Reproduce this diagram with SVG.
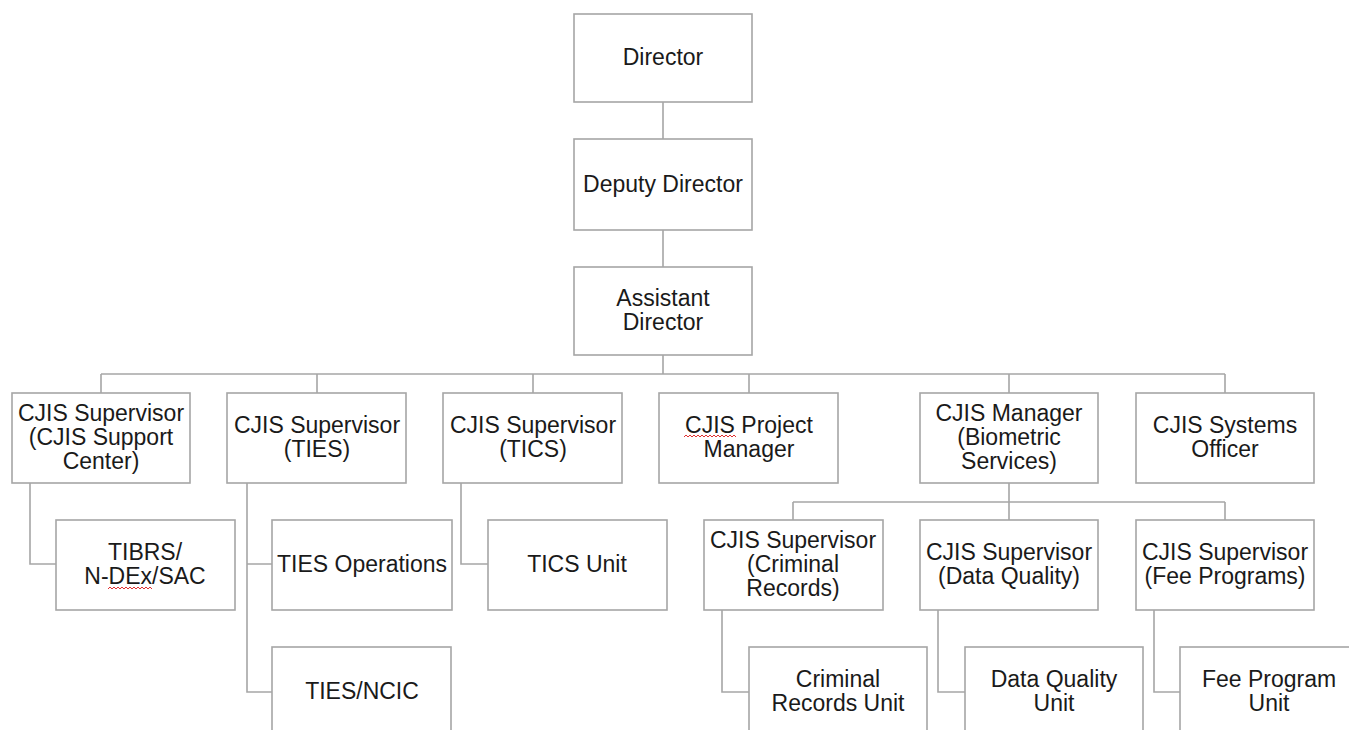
<svg xmlns="http://www.w3.org/2000/svg" width="1349" height="730" viewBox="0 0 1349 730">
<style>
.box{fill:#ffffff;stroke:#a6a6a6;stroke-width:1.6}
.lbl{font-family:"Liberation Sans",Arial,sans-serif;font-size:23px;fill:#1a1a1a;text-anchor:middle}
.con{fill:none;stroke:#a6a6a6;stroke-width:1.6}
.sq{fill:none;stroke:#e03030;stroke-width:1}
</style>
<rect width="1349" height="730" fill="#ffffff"/>
<g id="connectors">
<path class="con" d="M663 102V139M663 230V267M663 355V374M101 374H1225M101 374V393M317 374V393M533 374V393M749 374V393M1009 374V393M1225 374V393"/>
<path class="con" d="M1009 483V502M793 502H1225M793 502V520M1009 502V520M1225 502V520"/>
<path class="con" d="M30 483V564H56M247 483V692H272M247 564H272M461 483V564H488M722 610V692H749M938 610V692H965M1154 610V692H1180"/>
</g>
<g id="director"><rect class="box" x="574" y="14" width="178" height="88"/><text class="lbl" x="663" y="65">Director</text></g>
<g id="deputy"><rect class="box" x="574" y="139" width="178" height="91"/><text class="lbl" x="663" y="192">Deputy Director</text></g>
<g id="assistant"><rect class="box" x="574" y="267" width="178" height="88"/><text class="lbl" x="663" y="306">Assistant</text><text class="lbl" x="663" y="330">Director</text></g>
<g id="sup-support"><rect class="box" x="12" y="393" width="178" height="90"/><text class="lbl" x="101" y="421">CJIS Supervisor</text><text class="lbl" x="101" y="445">(CJIS Support</text><text class="lbl" x="101" y="469">Center)</text></g>
<g id="sup-ties"><rect class="box" x="227" y="393" width="179" height="90"/><text class="lbl" x="317" y="433">CJIS Supervisor</text><text class="lbl" x="317" y="457">(TIES)</text></g>
<g id="sup-tics"><rect class="box" x="443" y="393" width="179" height="90"/><text class="lbl" x="533" y="433">CJIS Supervisor</text><text class="lbl" x="533" y="457">(TICS)</text></g>
<g id="project-manager"><rect class="box" x="659" y="393" width="179" height="90"/><text class="lbl" x="749" y="433">CJIS Project</text><text class="lbl" x="749" y="457">Manager</text><path class="sq" d="M684 437l2 -2 2 2 2 -2 2 2 2 -2 2 2 2 -2 2 2 2 -2 2 2 2 -2 2 2 2 -2 2 2 2 -2 2 2 2 -2 2 2 2 -2 2 2 2 -2 2 2 2 -2 2 2 2 -2 2 2"/></g>
<g id="mgr-biometric"><rect class="box" x="920" y="393" width="178" height="90"/><text class="lbl" x="1009" y="421">CJIS Manager</text><text class="lbl" x="1009" y="445">(Biometric</text><text class="lbl" x="1009" y="469">Services)</text></g>
<g id="systems-officer"><rect class="box" x="1136" y="393" width="178" height="90"/><text class="lbl" x="1225" y="433">CJIS Systems</text><text class="lbl" x="1225" y="457">Officer</text></g>
<g id="tibrs"><rect class="box" x="56" y="520" width="179" height="90"/><text class="lbl" x="145" y="560">TIBRS/</text><text class="lbl" x="145" y="584">N-DEx/SAC</text><path class="sq" d="M108 589l2 -2 2 2 2 -2 2 2 2 -2 2 2 2 -2 2 2 2 -2 2 2 2 -2 2 2 2 -2 2 2 2 -2 2 2 2 -2 2 2 2 -2 2 2 2 -2 2 2"/></g>
<g id="ties-ops"><rect class="box" x="272" y="520" width="180" height="90"/><text class="lbl" x="362" y="572">TIES Operations</text></g>
<g id="tics-unit"><rect class="box" x="488" y="520" width="179" height="90"/><text class="lbl" x="577" y="572">TICS Unit</text></g>
<g id="sup-criminal"><rect class="box" x="704" y="520" width="179" height="90"/><text class="lbl" x="793" y="548">CJIS Supervisor</text><text class="lbl" x="793" y="572">(Criminal</text><text class="lbl" x="793" y="596">Records)</text></g>
<g id="sup-dq"><rect class="box" x="920" y="520" width="178" height="90"/><text class="lbl" x="1009" y="560">CJIS Supervisor</text><text class="lbl" x="1009" y="584">(Data Quality)</text></g>
<g id="sup-fee"><rect class="box" x="1136" y="520" width="178" height="90"/><text class="lbl" x="1225" y="560">CJIS Supervisor</text><text class="lbl" x="1225" y="584">(Fee Programs)</text></g>
<g id="ties-ncic"><rect class="box" x="272" y="647" width="179" height="90"/><text class="lbl" x="362" y="699">TIES/NCIC</text></g>
<g id="criminal-unit"><rect class="box" x="749" y="647" width="178" height="90"/><text class="lbl" x="838" y="687">Criminal</text><text class="lbl" x="838" y="711">Records Unit</text></g>
<g id="dq-unit"><rect class="box" x="965" y="647" width="178" height="90"/><text class="lbl" x="1054" y="687">Data Quality</text><text class="lbl" x="1054" y="711">Unit</text></g>
<g id="fee-unit"><rect class="box" x="1180" y="647" width="178" height="90"/><text class="lbl" x="1269" y="687">Fee Program</text><text class="lbl" x="1269" y="711">Unit</text></g>
</svg>
